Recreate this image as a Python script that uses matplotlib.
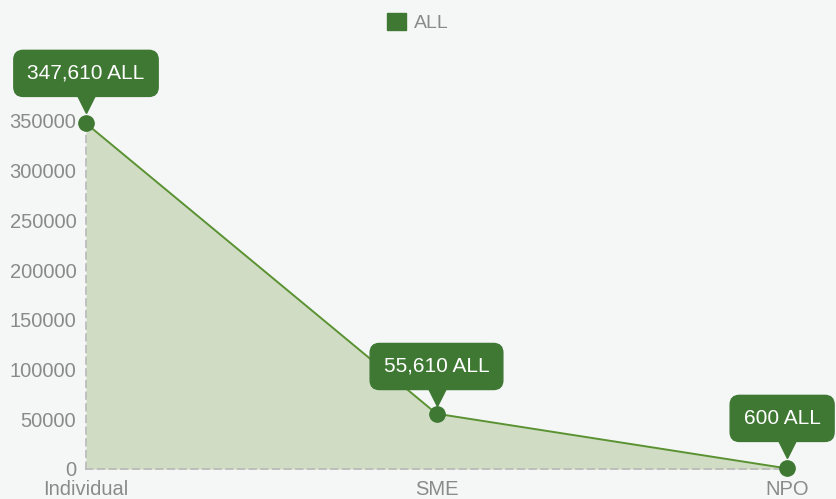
import matplotlib.pyplot as plt
from matplotlib.patches import Patch
from matplotlib.transforms import offset_copy

categories = ["Individual", "SME", "NPO"]
values = [347610, 55610, 600]
labels = ["347,610 ALL", "55,610 ALL", "600 ALL"]
yticks = [0, 50000, 100000, 150000, 200000, 250000, 300000, 350000]

bg = "#f5f7f7"
dark = "#3e7833"
line_c = "#5a9232"
fill_c = "#d0ddc4"
grey = "#8a8a8a"

plt.rcParams["font.family"] = ["Liberation Sans", "DejaVu Sans"]

fig = plt.figure(figsize=(8.36, 4.99), dpi=100, facecolor=bg)
ax = fig.add_axes([86 / 836, 1 - 469 / 499, (787 - 86) / 836, (469 - 121) / 499])
ax.set_facecolor(bg)

x = list(range(len(categories)))
ax.fill_between(x, values, 0, color=fill_c, lw=0)
ax.plot(x, values, color=line_c, lw=1.4, clip_on=False)
ax.plot(x, values, "o", color=dark, ms=11, clip_on=False, zorder=5)

ax.set_xlim(0, 2)
ax.set_ylim(0, 350000)
ax.set_xticks(x)
ax.set_xticklabels(categories)
ax.set_yticks(yticks)
ax.set_yticklabels([str(v) for v in yticks])
ax.tick_params(length=0, colors=grey, labelsize=14.5)
ax.tick_params(axis="x", pad=8)
ax.tick_params(axis="y", pad=7)

for s in ["top", "right"]:
    ax.spines[s].set_visible(False)
for s in ["left", "bottom"]:
    ax.spines[s].set_linestyle((0, (4, 3)))
    ax.spines[s].set_color("#b8b8b8")
    ax.spines[s].set_linewidth(1.2)

# vertical offset and horizontal shift (points) of each callout box
offsets = [36, 34, 36]
shifts = [0, 0, -3.5]
for xi, v, lab, off, sh in zip(x, values, labels, offsets, shifts):
    ax.annotate(lab, (xi, v), xytext=(sh, off), textcoords="offset points",
                ha="center", va="center", color="white", fontsize=15,
                bbox=dict(boxstyle="round,pad=0.65,rounding_size=0.45",
                          fc=dark, ec=dark), zorder=6, annotation_clip=False)
    tr = offset_copy(ax.transData, fig=fig, x=0, y=off - 22, units="points")
    ax.plot([xi], [v], marker="v", color=dark, ms=13, transform=tr,
            clip_on=False, zorder=6)

leg = fig.legend(handles=[Patch(fc=dark, ec=dark, label="ALL")],
                 loc="upper center", bbox_to_anchor=(0.5, 1.01), frameon=False,
                 handlelength=1.0, handleheight=1.0, handletextpad=0.4,
                 fontsize=14)
for t in leg.get_texts():
    t.set_color(grey)

fig.savefig("out.png", dpi=100, facecolor=bg)
